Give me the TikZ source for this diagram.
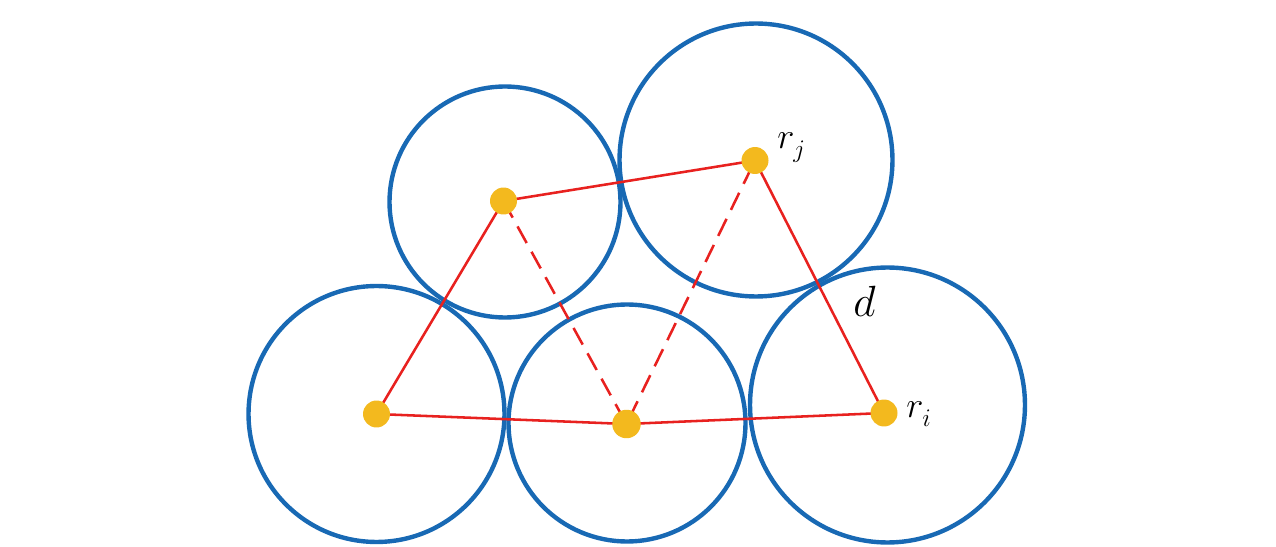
\documentclass[tikz,border=0pt]{standalone}
\usepackage{amsmath}
\usepackage{tikz}
\definecolor{blue1}{HTML}{1869B4}
\definecolor{red1}{HTML}{E8211F}
\definecolor{yellow1}{HTML}{F3B91E}
\tikzset{
  ring/.style={draw=blue1,line width=2.5pt},
  pt/.style={circle,fill=yellow1,inner sep=0pt,minimum size=0.54cm},
  link/.style={draw=red1,line width=1.45pt},
  dlink/.style={link,dash pattern=on 0.38cm off 0.2cm},
  lab/.style={inner sep=0pt,anchor=base west,font=\fontsize{21}{25}\selectfont}
}
\begin{document}
\begin{tikzpicture}[x=0.02cm,y=-0.02cm]
\useasboundingbox (0,0) rectangle (1276,547);
\draw[ring] (376.5,414) circle (2.56cm);
\draw[ring] (505,202) circle (2.31cm);
\draw[ring] (756,160) circle (2.73cm);
\draw[ring] (627,423) circle (2.37cm);
\draw[ring] (887.5,405) circle (2.75cm);
\coordinate (a) at (376.5,414);
\coordinate (b) at (503.5,201);
\coordinate (c) at (755,160.5);
\coordinate (dd) at (626.5,424);
\coordinate (e) at (884,413);
\draw[link] (a) -- (b) -- (c) -- (e) -- (dd) -- (a);
\draw[dlink] (b) -- (dd) -- (c);
\node[pt] (pa) at (a) {};
\node[pt] (pb) at (b) {};
\node[pt] (pc) at (c) {};
\node[pt,minimum size=0.57cm] (pd) at (dd) {};
\node[pt] (pe) at (e) {};
\node[lab] (rj) at (777,149) {$r_{\lower2pt\hbox{$\scriptstyle j$}}$};
\node[lab] (ri) at (906,418) {$r_{\lower2pt\hbox{$\scriptstyle i$}}$};
\node[lab,font=\fontsize{24}{28}\selectfont] (dlab) at (853,317) {$d$};
\end{tikzpicture}
\end{document}
